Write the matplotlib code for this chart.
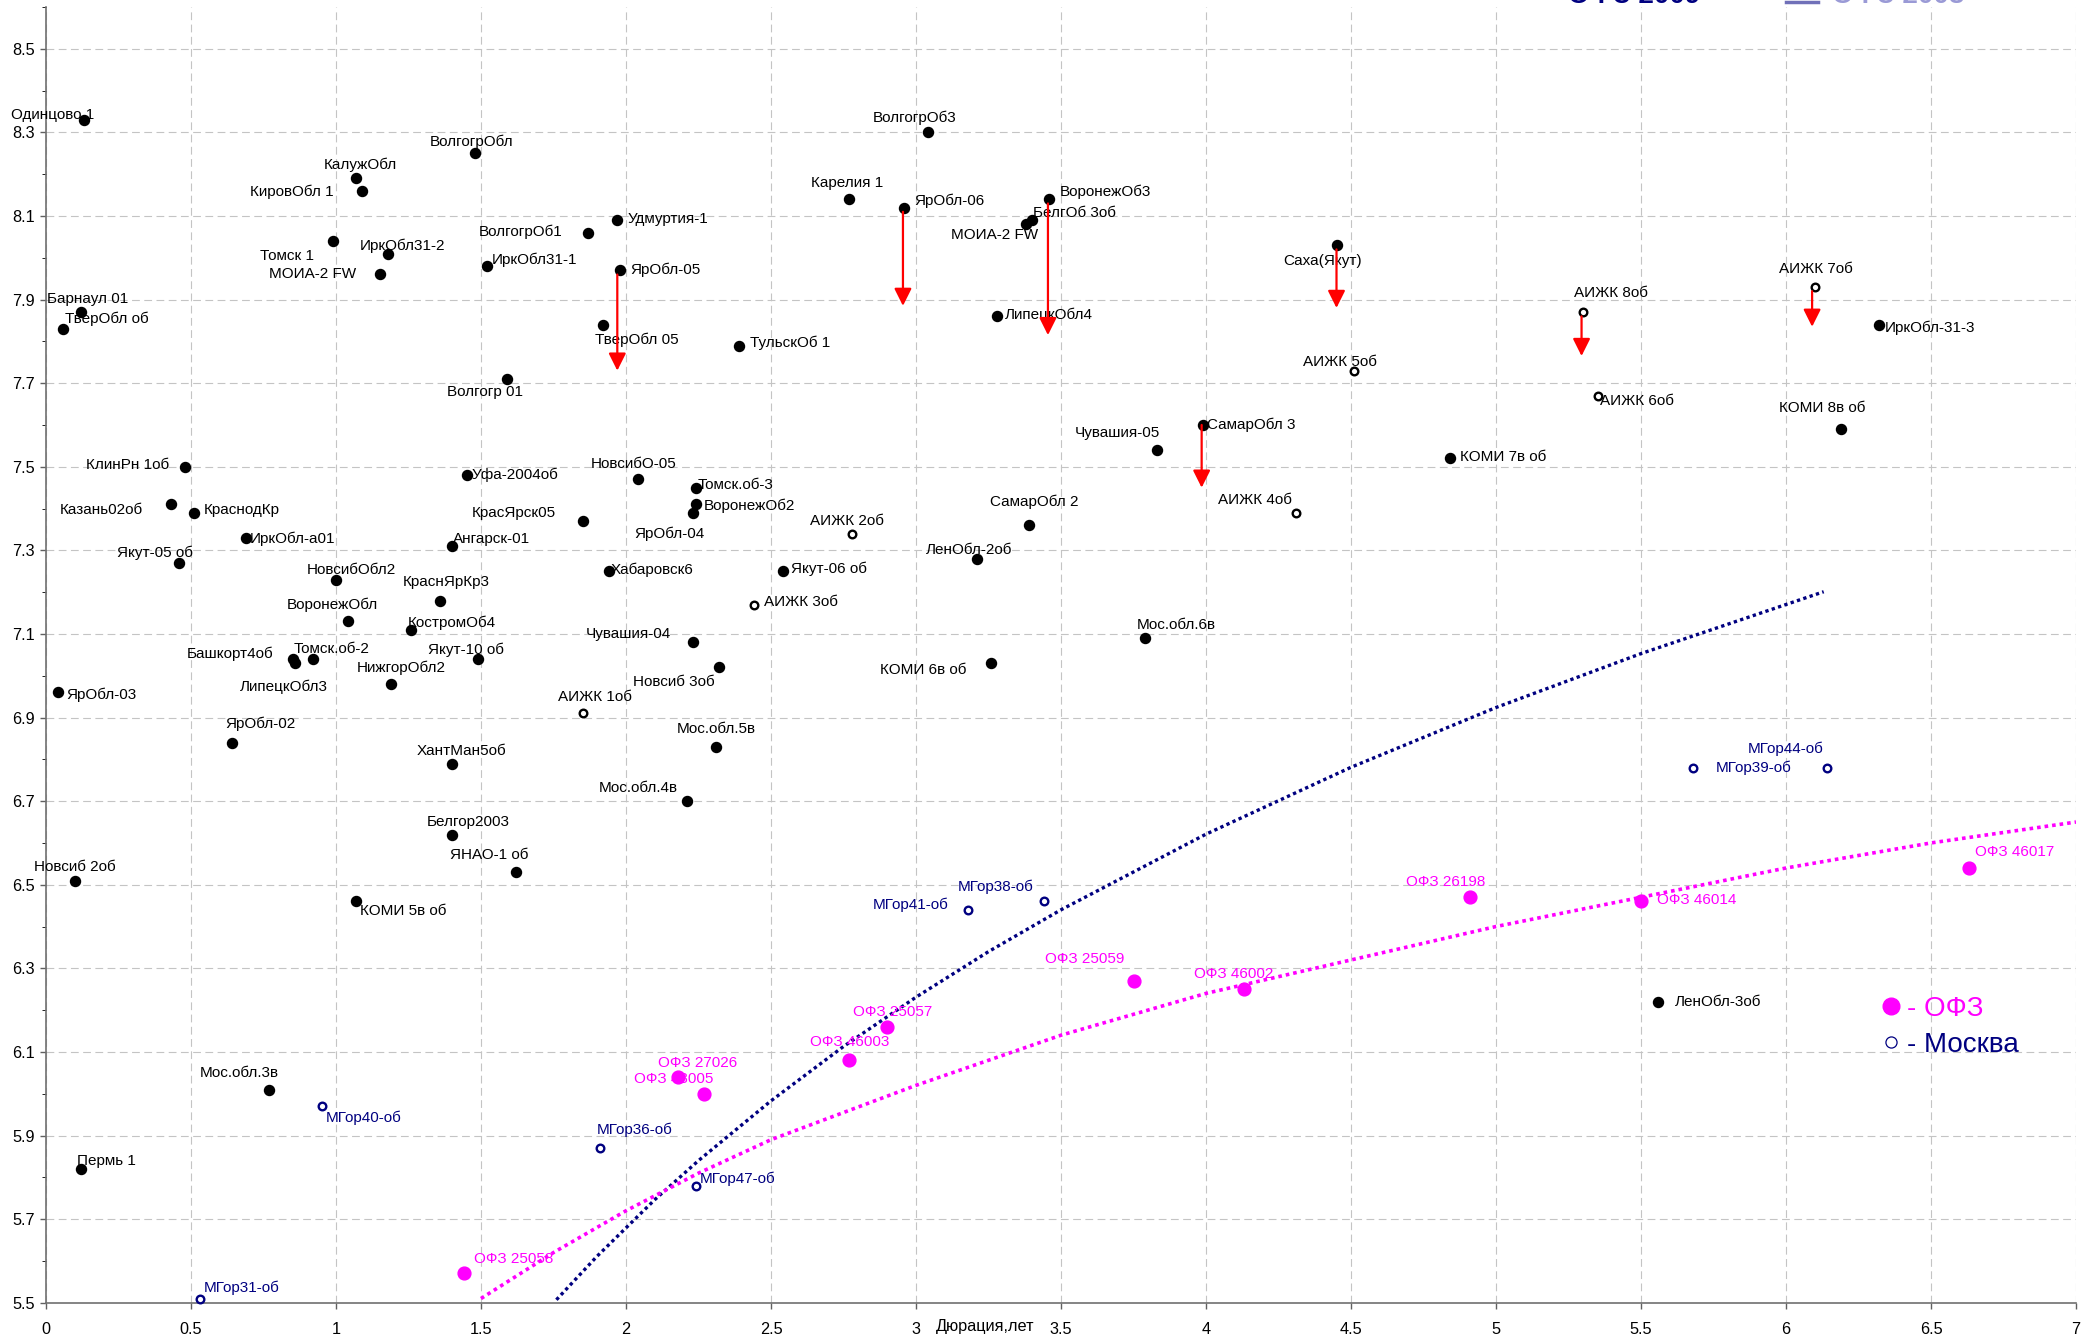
import numpy as np
import matplotlib
matplotlib.use('Agg')
import matplotlib.pyplot as plt
from matplotlib.lines import Line2D
from matplotlib.ticker import MultipleLocator, FuncFormatter
plt.rcParams['font.family'] = ['Liberation Sans', 'DejaVu Sans']

# ---- data: duration (years) / yield (%) ----
reg_names = ['Одинцово 1', 'ВолгогрОбл', 'КалужОбл', 'КировОбл 1', 'Удмуртия-1', 'ВолгогрОб1',
             'Томск 1', 'ИркОбл31-2', 'МОИА-2 FW', 'ИркОбл31-1', 'ЯрОбл-05', 'Барнаул 01',
             'ТверОбл об', 'ТверОбл 05', 'Волгогр 01', 'ВолгогрОб3', 'Карелия 1', 'ЯрОбл-06',
             'ВоронежОб3', 'БелгОб 3об', 'МОИА-2 FW', 'Саха(Якут)', 'ЛипецкОбл4', 'ТульскОб 1',
             'СамарОбл 3', 'Чувашия-05', 'ИркОбл-31-3', 'КОМИ 8в об', 'КлинРн 1об', 'Казань02об',
             'КраснодКр', 'ИркОбл-а01', 'Якут-05 об', 'НовсибОбл2', 'ВоронежОбл', 'КраснЯрКр3',
             'КостромОб4', 'Башкорт4об', 'Томск.об-2', 'ЛипецкОбл3', 'Якут-10 об', 'НижгорОбл2',
             'ЯрОбл-03', 'ЯрОбл-02', 'ХантМан5об', 'Белгор2003', 'ЯНАО-1 об', 'Новсиб 2об',
             'Уфа-2004об', 'Ангарск-01', 'КрасЯрск05', 'НовсибО-05', 'Хабаровск6', 'Томск.об-3',
             'ВоронежОб2', 'ЯрОбл-04', 'Чувашия-04', 'Новсиб 3об', 'Мос.обл.5в', 'Мос.обл.4в',
             'Якут-06 об', 'СамарОбл 2', 'ЛенОбл-2об', 'КОМИ 6в об', 'Мос.обл.6в', 'КОМИ 7в об',
             'КОМИ 5в об', 'Мос.обл.3в', 'Пермь 1', 'ЛенОбл-3об']
reg_dur = [0.13, 1.48, 1.07, 1.09, 1.97, 1.87, 0.99, 1.18, 1.15, 1.52, 1.98, 0.12,
           0.06, 1.92, 1.59, 3.04, 2.77, 2.96, 3.46, 3.40, 3.38, 4.45, 3.28, 2.39,
           3.99, 3.83, 6.32, 6.19, 0.48, 0.43, 0.51, 0.69, 0.46, 1.00, 1.04, 1.36,
           1.26, 0.85, 0.92, 0.86, 1.49, 1.19, 0.04, 0.64, 1.40, 1.40, 1.62, 0.10,
           1.45, 1.40, 1.85, 2.04, 1.94, 2.24, 2.24, 2.23, 2.23, 2.32, 2.31, 2.21,
           2.54, 3.39, 3.21, 3.26, 3.79, 4.84, 1.07, 0.77, 0.12, 5.56]
reg_yld = [8.33, 8.25, 8.19, 8.16, 8.09, 8.06, 8.04, 8.01, 7.96, 7.98, 7.97, 7.87,
           7.83, 7.84, 7.71, 8.30, 8.14, 8.12, 8.14, 8.09, 8.08, 8.03, 7.86, 7.79,
           7.60, 7.54, 7.84, 7.59, 7.50, 7.41, 7.39, 7.33, 7.27, 7.23, 7.13, 7.18,
           7.11, 7.04, 7.04, 7.03, 7.04, 6.98, 6.96, 6.84, 6.79, 6.62, 6.53, 6.51,
           7.48, 7.31, 7.37, 7.47, 7.25, 7.45, 7.41, 7.39, 7.08, 7.02, 6.83, 6.70,
           7.25, 7.36, 7.28, 7.03, 7.09, 7.52, 6.46, 6.01, 5.82, 6.22]

aijk_names = ['АИЖК 5об', 'АИЖК 8об', 'АИЖК 7об', 'АИЖК 6об', 'АИЖК 1об', 'АИЖК 2об',
              'АИЖК 3об', 'АИЖК 4об']
aijk_dur = [4.51, 5.30, 6.10, 5.35, 1.85, 2.78, 2.44, 4.31]
aijk_yld = [7.73, 7.87, 7.93, 7.67, 6.91, 7.34, 7.17, 7.39]

mgor_names = ['МГор39-об', 'МГор44-об', 'МГор40-об', 'МГор36-об', 'МГор31-об', 'МГор38-об',
              'МГор41-об', 'МГор47-об']
mgor_dur = [5.68, 6.14, 0.95, 1.91, 0.53, 3.44, 3.18, 2.24]
mgor_yld = [6.78, 6.78, 5.97, 5.87, 5.51, 6.46, 6.44, 5.78]

ofz_names = ['ОФЗ 25058', 'ОФЗ 27026', 'ОФЗ 48005', 'ОФЗ 46003', 'ОФЗ 25057', 'ОФЗ 25059',
             'ОФЗ 46002', 'ОФЗ 26198', 'ОФЗ 46014', 'ОФЗ 46017']
ofz_dur = [1.44, 2.18, 2.27, 2.77, 2.90, 3.75, 4.13, 4.91, 5.50, 6.63]
ofz_yld = [5.57, 6.04, 6.00, 6.08, 6.16, 6.27, 6.25, 6.47, 6.46, 6.54]

# yield change arrows (from -> to)
arr_dur = [1.97, 2.955, 3.455, 4.45, 3.985, 5.295, 6.09]
arr_from = [7.96, 8.11, 8.13, 8.02, 7.60, 7.86, 7.92]
arr_to = [7.73, 7.885, 7.815, 7.88, 7.45, 7.765, 7.835]

# trend curves
trend_navy_x = [1.76, 1.9, 2.1, 2.25, 2.5, 2.75, 3.0, 3.25, 3.5, 4.0, 4.5, 5.0, 5.5, 6.13]
trend_navy_y = [5.507, 5.611, 5.747, 5.840, 5.983, 6.113, 6.231, 6.340, 6.440, 6.621,
                6.781, 6.924, 7.053, 7.201]
trend_mag_x = [1.50, 1.75, 2.0, 2.25, 2.5, 3.0, 3.5, 4.0, 4.5, 5.0, 5.5, 6.0, 6.5, 7.0]
trend_mag_y = [5.51, 5.62, 5.72, 5.81, 5.89, 6.02, 6.14, 6.24, 6.32, 6.40, 6.47, 6.54,
               6.60, 6.65]

# ---- label placement (pixel offsets, alignment) ----
reg_lbl = [(-31, 5, 'c'), (-4, 11, 'c'), (4, 14, 'c'), (-28, -1, 'r'), (10, 1, 'l'), (-26, 1, 'r'),
           (-19, -15, 'r'), (14, 8, 'c'), (-23, 0, 'r'), (5, 6, 'l'), (10, 1, 'l'), (7, 13, 'c'),
           (2, 10, 'l'), (-8, -15, 'l'), (-22, -13, 'c'), (-13, 15, 'c'), (-2, 16, 'c'), (10, 7, 'l'),
           (10, 7, 'l'), (1, 7, 'l'), (-32, -11, 'c'), (-14, -16, 'c'), (8, 2, 'l'), (11, 3, 'l'),
           (4, 0, 'l'), (-39, 17, 'c'), (6, -3, 'l'), (-19, 21, 'c'), (-16, 2, 'r'), (-28, -6, 'r'),
           (10, 3, 'l'), (4, -1, 'l'), (-24, 10, 'c'), (15, 10, 'c'), (-15, 17, 'c'), (6, 19, 'c'),
           (-4, 7, 'l'), (-19, 5, 'r'), (19, 10, 'c'), (-12, -24, 'c'), (-12, 9, 'c'), (10, 16, 'c'),
           (9, -2, 'l'), (29, 19, 'c'), (9, 13, 'c'), (16, 13, 'c'), (-27, 17, 'c'), (0, 14, 'c'),
           (5, 0, 'l'), (1, 7, 'l'), (-27, 8, 'r'), (-4, 15, 'c'), (2, 1, 'l'), (2, 3, 'l'),
           (8, -1, 'l'), (-23, -21, 'c'), (-22, 8, 'r'), (-45, -15, 'c'), (0, 18, 'c'), (-9, 13, 'r'),
           (8, 2, 'l'), (5, 23, 'c'), (-8, 9, 'c'), (-25, -7, 'r'), (31, 13, 'c'), (10, 1, 'l'),
           (4, -10, 'l'), (-30, 17, 'c'), (-4, 8, 'l'), (16, 0, 'l')]
aijk_lbl = [(-14, 9, 'c'), (28, 19, 'c'), (1, 18, 'c'), (3, -5, 'l'), (12, 16, 'c'), (-5, 13, 'c'),
            (10, 3, 'l'), (-41, 13, 'c')]
mgor_lbl = [(23, 0, 'l'), (-41, 19, 'c'), (4, -12, 'l'), (35, 18, 'c'), (4, 11, 'l'), (-48, 15, 'c'),
            (-20, 5, 'r'), (4, 7, 'l')]
ofz_lbl = [(10, 14, 'l'), (19, 14, 'c'), (-31, 15, 'c'), (0, 18, 'c'), (6, 15, 'c'), (-49, 22, 'c'),
           (-10, 15, 'c'), (-24, 15, 'c'), (16, 1, 'l'), (6, 16, 'l')]

HA = {'l': 'left', 'r': 'right', 'c': 'center'}
NAVY = '#000080'
MAG = '#ff00ff'


def put_labels(ax, names, xs, ys, places, color, size=11):
    for name, x, y, (dx, dy, h) in zip(names, xs, ys, places):
        ax.annotate(name, (x, y), xytext=(dx, dy), textcoords='offset pixels',
                    ha=HA[h], va='center', fontsize=size, color=color, zorder=6)


def main():
    fig = plt.figure(figsize=(20.9, 13.39), dpi=100)
    ax = fig.add_axes([46 / 2090, 36.3 / 1339, 2030 / 2090, 1295.7 / 1339])

    ax.set_xlim(0, 7)
    ax.set_ylim(5.5, 8.6)
    ax.xaxis.set_major_locator(MultipleLocator(0.5))
    ax.xaxis.set_major_formatter(FuncFormatter(lambda v, p: '%g' % v))
    ax.set_yticks(np.arange(5.5, 8.51, 0.2))
    ax.yaxis.set_major_formatter(FuncFormatter(lambda v, p: '%.1f' % v))
    ax.yaxis.set_minor_locator(MultipleLocator(0.1))
    ax.tick_params(axis='both', colors='#606060', labelcolor='black', labelsize=11.7, width=1)
    ax.tick_params(axis='x', length=4, pad=10)
    ax.tick_params(axis='y', which='major', length=4, pad=4)
    ax.tick_params(axis='y', which='minor', length=3)
    ax.grid(True, which='major', color='#c4c4c4', linestyle=(0, (7, 4)), linewidth=0.8)
    for s in ['top', 'right']:
        ax.spines[s].set_visible(False)
    for s in ['left', 'bottom']:
        ax.spines[s].set_color('#707070')
        ax.spines[s].set_linewidth(1.2)

    ax.set_xlabel('Дюрация,лет', fontsize=11.7)
    ax.xaxis.set_label_coords(3.24 / 7, -0.0187)
    ax.xaxis.label.set_va('center')

    # trend curves
    ax.plot(trend_navy_x, trend_navy_y, color=NAVY, lw=2.4, linestyle=(0, (1, 1)), zorder=2)
    ax.plot(trend_mag_x, trend_mag_y, color=MAG, lw=2.6, linestyle=(0, (1, 1.1)), zorder=2)

    # points
    ax.scatter(reg_dur, reg_yld, s=52, color='black', zorder=4, clip_on=False)
    ax.scatter(aijk_dur, aijk_yld, s=30, facecolors='white', edgecolors='black',
               linewidths=1.7, zorder=4)
    ax.scatter(mgor_dur, mgor_yld, s=30, facecolors='white', edgecolors=NAVY,
               linewidths=1.7, zorder=4, clip_on=False)
    ax.scatter(ofz_dur, ofz_yld, s=85, color=MAG, zorder=4)

    put_labels(ax, reg_names, reg_dur, reg_yld, reg_lbl, 'black')
    put_labels(ax, aijk_names, aijk_dur, aijk_yld, aijk_lbl, 'black')
    put_labels(ax, mgor_names, mgor_dur, mgor_yld, mgor_lbl, NAVY)
    put_labels(ax, ofz_names, ofz_dur, ofz_yld, ofz_lbl, MAG)

    # red arrows
    for x, y0, y1 in zip(arr_dur, arr_from, arr_to):
        ax.annotate('', xy=(x, y1), xytext=(x, y0),
                    arrowprops=dict(arrowstyle='-|>,head_length=0.7,head_width=0.35',
                                    color='red', lw=1.6, mutation_scale=15,
                                    shrinkA=0, shrinkB=0), zorder=7)

    # legend
    handles = [Line2D([], [], marker='o', ls='none', color=MAG, markersize=12),
               Line2D([], [], marker='o', ls='none', markerfacecolor='white',
                      markeredgecolor=NAVY, markeredgewidth=0.9, markersize=8)]
    ax.legend(handles, ['- ОФЗ', '- Москва'], loc='center left',
              bbox_to_anchor=(0.895, 0.213), frameon=False, fontsize=20,
              labelcolor=[MAG, NAVY], handletextpad=0.1, labelspacing=0.35,
              handlelength=1.0, borderpad=0)

    # top legend cut off by the picture edge
    fig.text(1568 / 2090, 1 - 3 / 1339, 'ОФЗ 2009', color=NAVY, fontsize=20,
             fontweight='bold', va='baseline')
    fig.add_artist(Line2D([1786 / 2090, 1818 / 2090], [1 - 1.5 / 1339, 1 - 1.5 / 1339],
                          color='#7070b8', lw=2.5, transform=fig.transFigure))
    fig.text(1832 / 2090, 1 - 3 / 1339, 'ОФЗ 2008', color='#9a9ad6', fontsize=20,
             fontweight='bold', va='baseline')

    fig.savefig('out.png', dpi=100)


if __name__ == '__main__':
    main()
